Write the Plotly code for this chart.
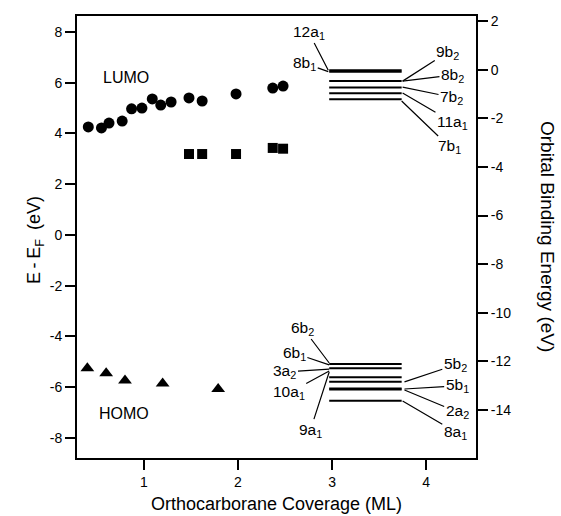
import plotly.graph_objects as go

# ---- data ----
lumo_x = [0.41, 0.55, 0.63, 0.77, 0.87, 0.98, 1.09, 1.18, 1.29, 1.48, 1.62, 1.98, 2.37, 2.48]
lumo_y = [4.26, 4.22, 4.41, 4.49, 4.97, 5.00, 5.36, 5.12, 5.24, 5.40, 5.28, 5.56, 5.79, 5.87]

sq_x = [1.48, 1.62, 1.98, 2.37, 2.48]
sq_y = [3.19, 3.19, 3.19, 3.43, 3.40]

homo_x = [0.40, 0.60, 0.80, 1.20, 1.79]
homo_y = [-5.25, -5.45, -5.74, -5.85, -6.07]

# orbital binding energies (right axis)
level_x = [2.97, 3.74]
upper_levels = [-0.02, -0.08, -0.46, -0.73, -0.97, -1.22]
lower_levels = [-12.11, -12.29, -12.66, -12.84, -13.12, -13.16, -13.62]

# orbital labels: text, label position (x, E), leader end (x, E)
orb_text = ["12a<sub>1</sub>", "8b<sub>1</sub>", "9b<sub>2</sub>", "8b<sub>2</sub>", "7b<sub>2</sub>",
            "11a<sub>1</sub>", "7b<sub>1</sub>",
            "6b<sub>2</sub>", "6b<sub>1</sub>", "3a<sub>2</sub>", "10a<sub>1</sub>", "9a<sub>1</sub>",
            "5b<sub>2</sub>", "5b<sub>1</sub>", "2a<sub>2</sub>", "8a<sub>1</sub>"]
orb_lx = [2.75, 2.71, 4.23, 4.28, 4.27, 4.28, 4.25,
          2.69, 2.60, 2.50, 2.54, 2.77,
          4.31, 4.33, 4.33, 4.31]
orb_ly = [1.55, 0.27, 0.72, -0.22, -1.13, -2.16, -3.18,
          -10.63, -11.66, -12.44, -13.30, -14.83,
          -12.15, -13.01, -14.08, -14.91]
orb_ex = [2.96, 2.96, 3.75, 3.75, 3.75, 3.75, 3.74,
          2.97, 2.97, 2.97, 2.97, 2.97,
          3.77, 3.77, 3.77, 3.75]
orb_ey = [-0.02, -0.08, -0.47, -0.47, -0.72, -0.96, -1.29,
          -12.07, -12.15, -12.32, -12.40, -12.44,
          -12.85, -13.14, -13.18, -13.63]

left_ticks = [-8, -6, -4, -2, 0, 2, 4, 6, 8]
right_ticks = [-14, -12, -10, -8, -6, -4, -2, 0, 2]
x_ticks = [1, 2, 3, 4]

FONT = "Liberation Sans, Arial, sans-serif"

fig = go.Figure()
fig.add_trace(go.Scatter(x=lumo_x, y=lumo_y, mode="markers",
                         marker=dict(symbol="circle", size=11, color="black"), showlegend=False))
fig.add_trace(go.Scatter(x=sq_x, y=sq_y, mode="markers",
                         marker=dict(symbol="square", size=10, color="black"), showlegend=False))
fig.add_trace(go.Scatter(x=homo_x, y=homo_y, mode="markers",
                         marker=dict(symbol="triangle-up", size=12, color="black"), showlegend=False))

for lv in upper_levels + lower_levels:
    fig.add_trace(go.Scatter(x=level_x, y=[lv, lv], mode="lines", yaxis="y2",
                             line=dict(color="black", width=2), showlegend=False,
                             hoverinfo="skip"))

annotations = []
for t, lx, ly, ex, ey in zip(orb_text, orb_lx, orb_ly, orb_ex, orb_ey):
    annotations.append(dict(x=ex, y=ey, xref="x", yref="y2", ax=lx, ay=ly,
                            axref="x", ayref="y2", text=t, showarrow=True,
                            arrowhead=0, arrowwidth=1.2, arrowcolor="black",
                            standoff=0, startstandoff=0,
                            font=dict(family=FONT, size=15.5, color="black")))

annotations += [
    dict(x=0.81, y=6.19, xref="x", yref="y", text="LUMO", showarrow=False,
         font=dict(family=FONT, size=16, color="black")),
    dict(x=0.79, y=-7.05, xref="x", yref="y", text="HOMO", showarrow=False,
         font=dict(family=FONT, size=16, color="black")),
    dict(x=0, y=0.5, xref="paper", yref="paper", xshift=-42, yshift=-3,
         text="E\u2009-\u2009E<sub>F</sub>\u2002(eV)",
         textangle=-90, showarrow=False, xanchor="center", yanchor="middle",
         font=dict(family=FONT, size=18, color="black")),
    dict(x=1, y=0.5, xref="paper", yref="paper", xshift=72, yshift=1,
         text="Orbital Binding Energy (eV)", textangle=90, showarrow=False,
         xanchor="center", yanchor="middle",
         font=dict(family=FONT, size=19, color="black")),
    dict(x=0.5, y=0, xref="paper", yref="paper", yshift=-46,
         text="Orthocarborane Coverage (ML)", showarrow=False,
         xanchor="center", yanchor="middle",
         font=dict(family=FONT, size=18, color="black")),
]

axis_common = dict(showline=True, linecolor="black", linewidth=2, ticks="outside",
                   ticklen=10, tickwidth=2, tickcolor="black", showgrid=False, zeroline=False,
                   tickfont=dict(family=FONT, size=14, color="black"))

fig.update_layout(
    width=561, height=516,
    margin=dict(l=77, r=85, t=16, b=58),
    paper_bgcolor="white", plot_bgcolor="white",
    xaxis=dict(range=[0.29, 4.53], tickvals=x_ticks, ticktext=[str(v) for v in x_ticks],
               mirror=True, **axis_common),
    yaxis=dict(range=[-8.79, 8.63], tickvals=left_ticks,
               ticktext=[str(v) for v in left_ticks], **axis_common),
    yaxis2=dict(range=[-15.98, 2.21], overlaying="y", side="right", tickvals=right_ticks,
                ticktext=[str(v) for v in right_ticks], **axis_common),
    annotations=annotations,
    showlegend=False,
)

fig.write_html("out.html")
